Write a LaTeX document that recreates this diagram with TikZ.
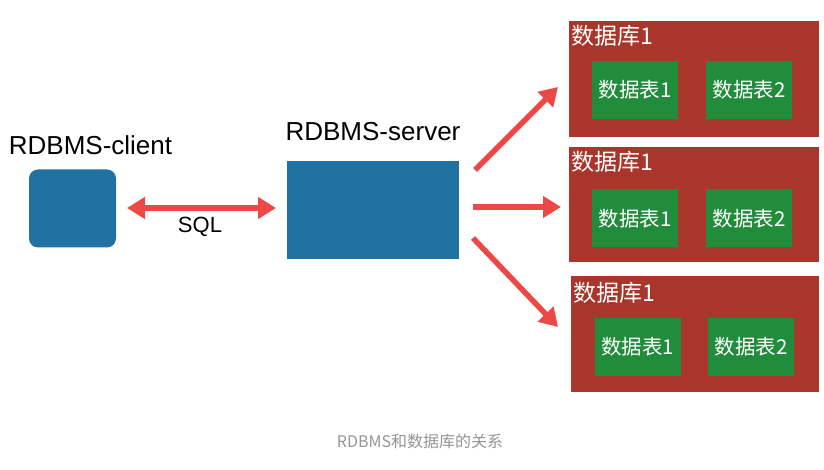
\documentclass[tikz,border=0pt]{standalone}
\usepackage{fontspec}
\setmainfont{Liberation Sans}
\newfontfamily\cjk{Noto Sans CJK SC}
\usetikzlibrary{arrows.meta}
\definecolor{boxblue}{RGB}{33,113,163}
\definecolor{dbred}{RGB}{168,54,42}
\definecolor{tblgreen}{RGB}{33,140,60}
\definecolor{arrred}{RGB}{236,72,72}
\definecolor{capgray}{RGB}{150,150,150}
\tikzset{
  blueblock/.style={fill=boxblue, draw=none, inner sep=0pt},
  dbbox/.style={fill=dbred, draw=none, inner sep=0pt, minimum width=250pt, minimum height=116pt},
  tblbox/.style={fill=tblgreen, draw=none, inner sep=0pt, minimum width=86pt, minimum height=58pt, text=white, font=\cjk\fontsize{20.5}{22}\selectfont},
  dbtitle/.style={anchor=west, text=white, inner sep=0pt, font=\cjk\fontsize{23}{25}\selectfont},
  biglabel/.style={inner sep=0pt, font=\fontsize{26}{28}\selectfont},
  redarrow/.style={draw=arrred, line width=5.5pt, -{Triangle[length=18pt,width=21pt]}},
}
\begin{document}
\begin{tikzpicture}[x=1pt,y=-1pt]
\useasboundingbox (0,0) rectangle (824,470);
\fill[white] (0,0) rectangle (824,470);

% client and server
\node[blueblock, rounded corners=9pt, minimum width=87pt, minimum height=78pt] (client) at (72.5,208.5) {};
\node[biglabel] (clientlbl) at (90.5,145) {RDBMS-client};
\node[blueblock, minimum width=172pt, minimum height=98pt] (server) at (373,210) {};
\node[biglabel] (serverlbl) at (373,132) {RDBMS-server};

% databases
\node[dbbox] (db1) at (694,79) {};
\node[dbbox, minimum height=115pt] (db2) at (694,204.5) {};
\node[dbbox, minimum width=248pt] (db3) at (695,334) {};

\node[dbtitle] (db1t) at (571,36) {数据库1};
\node[dbtitle] (db2t) at (571,162) {数据库1};
\node[dbtitle] (db3t) at (573,293) {数据库1};

\node[tblbox] (t11) at (635,90) {数据表1};
\node[tblbox] (t12) at (749,90) {数据表2};
\node[tblbox] (t21) at (635,218.5) {数据表1};
\node[tblbox] (t22) at (749,218.5) {数据表2};
\node[tblbox] (t31) at (637.5,346.5) {数据表1};
\node[tblbox] (t32) at (751,346.5) {数据表2};

% SQL arrow
\coordinate (sqlL) at (127,208);
\coordinate (sqlR) at (276,208);
\draw[draw=arrred, line width=5.5pt, {Triangle[length=18pt,width=21pt]}-{Triangle[length=18pt,width=21pt]}] (sqlL) -- (sqlR);
\node[inner sep=0pt, font=\fontsize{22}{24}\selectfont] (sql) at (200,227) {SQL};

% fan-out arrows
\coordinate (a1s) at (475,170);
\coordinate (a1e) at (558,87);
\coordinate (a2s) at (473,207);
\coordinate (a2e) at (561,207);
\coordinate (a3s) at (473,238);
\coordinate (a3e) at (558,327);
\draw[redarrow] (a1s) -- (a1e);
\draw[redarrow] (a2s) -- (a2e);
\draw[redarrow] (a3s) -- (a3e);

% caption
\node[text=capgray, inner sep=0pt, font=\cjk\fontsize{16}{18}\selectfont] (cap) at (420,441) {RDBMS和数据库的关系};
\end{tikzpicture}
\end{document}
